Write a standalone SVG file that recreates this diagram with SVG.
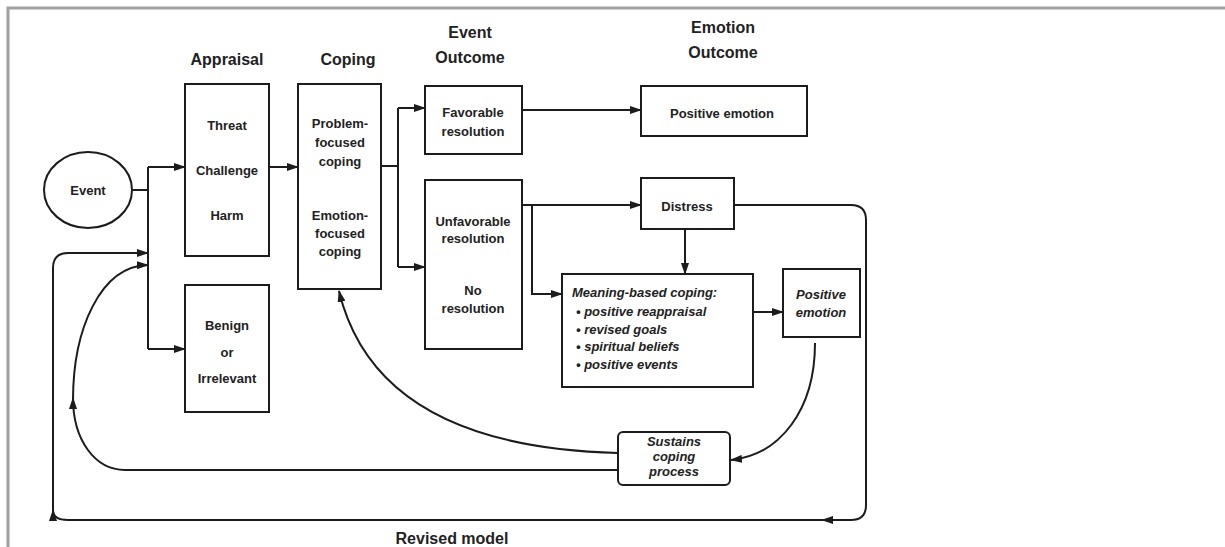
<svg xmlns="http://www.w3.org/2000/svg" width="1225" height="547" viewBox="0 0 1225 547">
<style>
.frame{stroke:#a0a0a0;stroke-width:3;fill:none}
.box{fill:#fff;stroke:#1c1c1c;stroke-width:2}
.ln{fill:none;stroke:#1c1c1c;stroke-width:2}
.t{font-family:"Liberation Sans",Arial,sans-serif;font-weight:bold;font-size:13px;fill:#222;text-anchor:middle}
.h{font-family:"Liberation Sans",Arial,sans-serif;font-weight:bold;font-size:16px;fill:#222;text-anchor:middle}
.i{font-style:italic}
.l{text-anchor:start}
</style>
<defs>
<marker id="ah" markerUnits="userSpaceOnUse" markerWidth="12" markerHeight="8" refX="11" refY="4" orient="auto">
<path d="M0,0 L12,4 L0,8 z" fill="#1c1c1c"/>
</marker>
</defs>
<rect width="1225" height="547" fill="#fff"/>
<path class="frame" d="M8,547 V8 H1225"/>

<g id="headers">
<text class="h" x="227" y="65">Appraisal</text>
<text class="h" x="348" y="65">Coping</text>
<text class="h" x="470" y="38">Event</text>
<text class="h" x="470" y="63">Outcome</text>
<text class="h" x="723" y="33">Emotion</text>
<text class="h" x="723" y="58">Outcome</text>
</g>

<g id="connectors">
<path class="ln" d="M133,190 H148"/>
<path class="ln" d="M148,167 V349"/>
<path class="ln" d="M148,167 H185" marker-end="url(#ah)"/>
<path class="ln" d="M148,349 H185" marker-end="url(#ah)"/>
<path class="ln" d="M269,167 H298" marker-end="url(#ah)"/>
<path class="ln" d="M381,166 H398"/>
<path class="ln" d="M398,108 V267"/>
<path class="ln" d="M398,108 H425" marker-end="url(#ah)"/>
<path class="ln" d="M398,267 H425" marker-end="url(#ah)"/>
<path class="ln" d="M522,110 H641" marker-end="url(#ah)"/>
<path class="ln" d="M522,205 H641" marker-end="url(#ah)"/>
<path class="ln" d="M532,205 V294 H562" marker-end="url(#ah)"/>
<path class="ln" d="M685,229 V274" marker-end="url(#ah)"/>
<path class="ln" d="M753,312 H783" marker-end="url(#ah)"/>
<path class="ln" d="M734,205 H851 Q866,205 866,220 V505 Q866,520 851,520 H822" marker-end="url(#ah)"/>
<path class="ln" d="M824,520 H68 Q53,520 53,510" marker-end="url(#ah)"/>
<path class="ln" d="M53,512 V268 Q53,253 68,253 H148" marker-end="url(#ah)"/>
<path class="ln" d="M618,470 H125 C95,470 73,440 73,398" marker-end="url(#ah)"/>
<path class="ln" d="M73,400 C73,330 100,266 148,265" marker-end="url(#ah)"/>
<path class="ln" d="M618,453 C500,450 370,420 339,291" marker-end="url(#ah)"/>
<path class="ln" d="M815,343 C815,410 780,455 731,460" marker-end="url(#ah)"/>
</g>

<g id="event">
<ellipse class="box" cx="88" cy="190" rx="44" ry="38"/>
<text class="t" x="88" y="195" font-size="14">Event</text>
</g>

<g id="appraisal">
<rect class="box" x="185" y="84" width="84" height="172"/>
<text class="t" x="227" y="130">Threat</text>
<text class="t" x="227" y="175">Challenge</text>
<text class="t" x="227" y="220">Harm</text>
</g>

<g id="benign">
<rect class="box" x="185" y="285" width="84" height="127"/>
<text class="t" x="227" y="330">Benign</text>
<text class="t" x="227" y="357">or</text>
<text class="t" x="227" y="383">Irrelevant</text>
</g>

<g id="coping">
<rect class="box" x="298" y="84" width="83" height="205"/>
<text class="t" x="340" y="128">Problem-</text>
<text class="t" x="340" y="147">focused</text>
<text class="t" x="340" y="166">coping</text>
<text class="t" x="340" y="220">Emotion-</text>
<text class="t" x="340" y="238">focused</text>
<text class="t" x="340" y="256">coping</text>
</g>

<g id="favorable">
<rect class="box" x="425" y="86" width="97" height="68"/>
<text class="t" x="473" y="117">Favorable</text>
<text class="t" x="473" y="136">resolution</text>
</g>

<g id="unfavorable">
<rect class="box" x="425" y="180" width="97" height="169"/>
<text class="t" x="473" y="226">Unfavorable</text>
<text class="t" x="473" y="243">resolution</text>
<text class="t" x="473" y="295">No</text>
<text class="t" x="473" y="313">resolution</text>
</g>

<g id="positive-emotion-top">
<rect class="box" x="641" y="86" width="166" height="50"/>
<text class="t" x="722" y="118">Positive emotion</text>
</g>

<g id="distress">
<rect class="box" x="641" y="178" width="93" height="51"/>
<text class="t" x="687" y="211">Distress</text>
</g>

<g id="meaning">
<rect class="box" x="562" y="274" width="191" height="113"/>
<text class="t i l" x="572" y="297">Meaning-based coping:</text>
<text class="t i l" x="576" y="316">• positive reappraisal</text>
<text class="t i l" x="576" y="334">• revised goals</text>
<text class="t i l" x="576" y="351">• spiritual beliefs</text>
<text class="t i l" x="576" y="369">• positive events</text>
</g>

<g id="positive-emotion-bottom">
<rect class="box" x="783" y="269" width="77" height="68"/>
<text class="t i" x="821" y="299">Positive</text>
<text class="t i" x="821" y="317">emotion</text>
</g>

<g id="sustains">
<rect class="box" x="618" y="432" width="112" height="53" rx="5"/>
<text class="t i" x="674" y="446">Sustains</text>
<text class="t i" x="674" y="461">coping</text>
<text class="t i" x="674" y="476">process</text>
</g>

<g id="revised-label">
<text class="h" x="452" y="544" font-size="17">Revised model</text>
</g>
</svg>
